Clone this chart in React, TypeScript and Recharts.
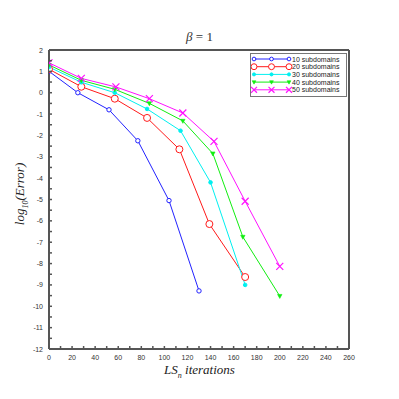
import { Line, LineChart, ReferenceLine, XAxis, YAxis } from "recharts";

// iterations (x) and log10(error) (y) per number of subdomains
const X10 = [0, 25, 52, 77, 104, 130];
const Y10 = [1.0, 0.0, -0.8, -2.25, -5.05, -9.28];
const X20 = [0, 28, 57, 85, 113, 139, 170];
const Y20 = [1.1, 0.28, -0.28, -1.18, -2.65, -6.15, -8.63];
const X30 = [0, 28, 57, 85, 114, 140, 170];
const Y30 = [1.2, 0.49, 0.0, -0.76, -1.78, -4.2, -9.0];
const X40 = [0, 28, 57, 87, 116, 142, 168, 200];
const Y40 = [1.3, 0.58, 0.16, -0.5, -1.32, -2.85, -6.75, -9.52];
const X50 = [0, 28, 58, 87, 116, 143, 170, 200];
const Y50 = [1.4, 0.67, 0.27, -0.28, -0.95, -2.28, -5.08, -8.13];

const X_TICKS = Array.from({ length: 27 }, (_, i) => i * 10);
const Y_TICKS = Array.from({ length: 29 }, (_, i) => -12 + i * 0.5);

const AXIS = "#555";
const TICK_TEXT = "#333";
const SANS = "'Liberation Sans', Arial, sans-serif";
const SERIF = "'Liberation Serif', 'DejaVu Serif', serif";

type Marker = "smallCircle" | "circle" | "dot" | "triangle" | "cross";

const SERIES: { name: string; color: string; marker: Marker; xs: number[]; ys: number[] }[] = [
  { name: "10 subdomains", color: "#2222ff", marker: "smallCircle", xs: X10, ys: Y10 },
  { name: "20 subdomains", color: "#ff1a1a", marker: "circle", xs: X20, ys: Y20 },
  { name: "30 subdomains", color: "#00f0f0", marker: "dot", xs: X30, ys: Y30 },
  { name: "40 subdomains", color: "#11ee11", marker: "triangle", xs: X40, ys: Y40 },
  { name: "50 subdomains", color: "#ff11ff", marker: "cross", xs: X50, ys: Y50 },
];

function drawMarker(kind: Marker, cx: number, cy: number, color: string, key?: string | number, s = 1) {
  switch (kind) {
    case "smallCircle":
      return <circle key={key} cx={cx} cy={cy} r={2.2 * s} fill="white" stroke={color} strokeWidth={1} />;
    case "circle":
      return <circle key={key} cx={cx} cy={cy} r={3.5 * s} fill="white" stroke={color} strokeWidth={1} />;
    case "dot":
      return <circle key={key} cx={cx} cy={cy} r={1.8 * s} fill={color} stroke={color} />;
    case "triangle":
      return (
        <path
          key={key}
          d={`M${cx - 2.2 * s},${cy - 1.6 * s}L${cx + 2.2 * s},${cy - 1.6 * s}L${cx},${cy + 2.4 * s}Z`}
          fill={color}
          stroke={color}
          strokeWidth={0.6}
        />
      );
    case "cross": {
      const d = 3.5 * s;
      return (
        <path
          key={key}
          d={`M${cx - d},${cy - d}L${cx + d},${cy + d}M${cx - d},${cy + d}L${cx + d},${cy - d}`}
          stroke={color}
          strokeWidth={1.2}
          fill="none"
        />
      );
    }
  }
}

function XTick(props: any) {
  const { x, y, payload } = props;
  const v = payload.value as number;
  const major = v % 20 === 0;
  return (
    <g>
      <line x1={x} y1={y} x2={x} y2={y - 3} stroke={AXIS} strokeWidth={1.5} />
      {major && (
        <text x={x} y={y + 11} textAnchor="middle" fontSize={7} fontFamily={SANS} fill={TICK_TEXT}>
          {v}
        </text>
      )}
    </g>
  );
}

function YTick(props: any) {
  const { x, y, payload } = props;
  const v = payload.value as number;
  const major = Number.isInteger(v);
  return (
    <g>
      <line x1={x} y1={y} x2={x + 3} y2={y} stroke={AXIS} strokeWidth={1.5} />
      {major && (
        <text x={x - 6} y={y + 2.5} textAnchor="end" fontSize={7} fontFamily={SANS} fill={TICK_TEXT}>
          {v}
        </text>
      )}
    </g>
  );
}

function LegendBox() {
  return (
    <div
      style={{
        position: "absolute",
        left: 250,
        top: 53,
        width: 97,
        height: 44,
        border: "1px solid #777",
        background: "white",
        boxSizing: "border-box",
      }}
    >
      <svg width={95} height={42} style={{ display: "block" }}>
        {SERIES.map((s, i) => {
          const y = 5 + i * 7.7;
          return (
            <g key={s.name}>
              <line x1={3} y1={y} x2={38} y2={y} stroke={s.color} strokeWidth={1} />
              {[3, 20.5, 38].map((mx) => drawMarker(s.marker, mx, y, s.color, mx, 0.85))}
              <text x={41} y={y + 2.5} fontSize={7} fontFamily={SANS} fill="#222">
                {s.name}
              </text>
            </g>
          );
        })}
      </svg>
    </div>
  );
}

export default function App() {
  return (
    <div style={{ position: "absolute", left: 0, top: 0, width: 399, height: 399, background: "white" }}>
      <LineChart width={399} height={399} margin={{ top: 50, right: 50, bottom: 30, left: 0 }}>
        <XAxis
          xAxisId="bottom"
          type="number"
          dataKey="x"
          domain={[0, 260]}
          ticks={X_TICKS}
          interval={0}
          height={20}
          tickSize={0}
          tickMargin={0}
          tick={<XTick />}
          axisLine={{ stroke: AXIS, strokeWidth: 2 }}
          allowDataOverflow
        />
        <YAxis
          yAxisId="left"
          type="number"
          domain={[-12, 2]}
          ticks={Y_TICKS}
          interval={0}
          width={49}
          tickSize={0}
          tickMargin={0}
          tick={<YTick />}
          axisLine={{ stroke: AXIS, strokeWidth: 2 }}
          allowDataOverflow
        />
        {/* top and right sides of the frame */}
        <ReferenceLine xAxisId="bottom" yAxisId="left" y={2} stroke={AXIS} strokeWidth={2} />
        <ReferenceLine xAxisId="bottom" yAxisId="left" x={260} stroke={AXIS} strokeWidth={2} />
        {SERIES.map((s) => (
          <Line
            key={s.name}
            xAxisId="bottom"
            yAxisId="left"
            data={s.xs.map((x, i) => ({ x, y: s.ys[i] }))}
            dataKey="y"
            name={s.name}
            stroke={s.color}
            strokeWidth={1}
            isAnimationActive={false}
            dot={(p: any) => drawMarker(s.marker, p.cx, p.cy, s.color, p.index)}
            activeDot={false}
          />
        ))}
      </LineChart>
      <LegendBox />
      <div
        style={{
          position: "absolute",
          top: 29,
          left: 0,
          width: 399,
          textAlign: "center",
          fontFamily: SERIF,
          fontSize: 13,
          color: "#333",
        }}
      >
        <i>β</i> = 1
      </div>
      <div
        style={{
          position: "absolute",
          top: 362,
          left: 0,
          width: 399,
          textAlign: "center",
          fontFamily: SERIF,
          fontSize: 13,
          fontStyle: "italic",
          color: "#222",
        }}
      >
        LS<sub style={{ fontSize: 8 }}>n</sub> iterations
      </div>
      <div
        style={{
          position: "absolute",
          left: 21,
          top: 194,
          transform: "translate(-50%, -50%) rotate(-90deg)",
          whiteSpace: "nowrap",
          fontFamily: SERIF,
          fontSize: 13,
          fontStyle: "italic",
          color: "#222",
        }}
      >
        log<sub style={{ fontSize: 8 }}>10</sub>(Error)
      </div>
    </div>
  );
}
